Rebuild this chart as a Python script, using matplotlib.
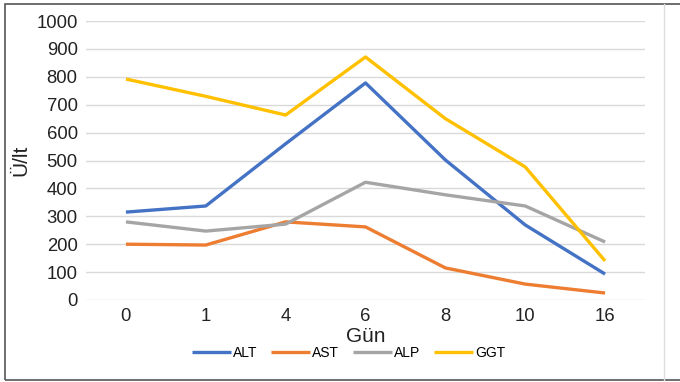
import matplotlib
matplotlib.use("Agg")
import matplotlib.pyplot as plt
from matplotlib.patches import Rectangle
from matplotlib.lines import Line2D

plt.rcParams['font.family'] = ['Liberation Sans', 'DejaVu Sans']

gunler = ["0", "1", "4", "6", "8", "10", "16"]
alt = [315, 337, 560, 778, 502, 269, 93]
ast = [200, 197, 280, 262, 115, 57, 25]
alp = [280, 247, 272, 422, 377, 337, 208]
ggt = [792, 730, 663, 871, 650, 477, 140]

seriler = [("ALT", alt, "#4472C4"), ("AST", ast, "#ED7D31"),
           ("ALP", alp, "#A5A5A5"), ("GGT", ggt, "#FFC000")]

fig = plt.figure(figsize=(6.8, 3.82), dpi=100)
ax = fig.add_axes([86/680, 1 - 300/382, 559/680, 279/382])

x = range(len(gunler))
for ad, deger, renk in seriler:
    ax.plot(x, deger, color=renk, lw=2.4, label=ad, solid_capstyle="butt", zorder=3)

ax.set_xlim(-0.5, len(gunler) - 0.5)
ax.set_ylim(0, 1000)
ax.set_yticks(range(0, 1001, 100))
ax.set_xticks(list(x))
ax.set_xticklabels(gunler)
ax.grid(axis="y", color="#D9D9D9", lw=1)
ax.set_axisbelow(True)
for s in ax.spines.values():
    s.set_visible(False)
ax.tick_params(length=0, labelsize=13.3, colors="#222222", pad=6)
ax.set_xlabel("Gün", fontsize=15, labelpad=1, color="#222222")
ax.set_ylabel("Ü/lt", fontsize=15, labelpad=4, color="#222222")

ax.legend(loc="center", bbox_to_anchor=(0.47, -0.19), ncol=4, frameon=False,
          fontsize=10, handlelength=2.8, columnspacing=1.0, handletextpad=0.15,
          borderpad=0, borderaxespad=0)

# cerceve
fig.add_artist(Rectangle((5/680, 2/382), 1.2, 1 - 6/382, transform=fig.transFigure,
                         fill=False, edgecolor="#555555", lw=1.2))
fig.add_artist(Line2D([664/680, 664/680], [2/382, 1 - 4/382], transform=fig.transFigure,
                      color="#DDDDDD", lw=1))

fig.savefig("out.png", dpi=100)
